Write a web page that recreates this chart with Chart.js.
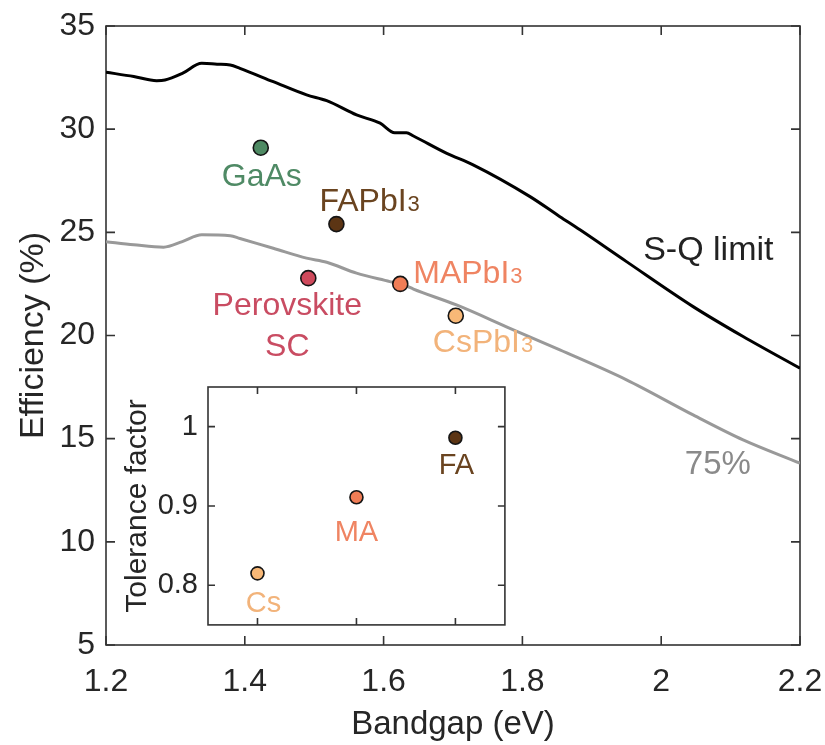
<!DOCTYPE html>
<html>
<head>
<meta charset="utf-8">
<script src="https://cdn.jsdelivr.net/npm/chart.js@4.4.1/dist/chart.umd.min.js"></script>
<style>
    body { margin: 0; background: #fff; }
    #wrap { position: relative; width: 825px; height: 745px; }
    #mainChart { position: absolute; left: 0; top: 0; }
    #insetChart { position: absolute; left: 118px; top: 378px; }
</style>
</head>
<body>
<div id="wrap">
    <canvas id="mainChart" width="825" height="745"></canvas>
    <canvas id="insetChart" width="395" height="255"></canvas>
</div>
<script>
// Shockley-Queisser limit
const bandgapSQ = [1.20, 1.24, 1.273, 1.285, 1.31, 1.338, 1.36, 1.379, 1.393, 1.441, 1.489, 1.518, 1.561, 1.595, 1.616, 1.633, 1.643, 1.691, 1.729, 1.811, 1.854, 1.883, 1.95, 2.046, 2.118, 2.2];
const effSQ = [32.76, 32.55, 32.35, 32.38, 32.70, 33.19, 33.15, 33.11, 32.95, 32.30, 31.66, 31.38, 30.69, 30.29, 29.83, 29.83, 29.67, 28.83, 28.27, 26.73, 25.76, 25.12, 23.58, 21.40, 19.95, 18.41];

// 75% of the S-Q limit (gray curve)
const bandgap75 = [1.20, 1.24, 1.283, 1.31, 1.338, 1.379, 1.393, 1.441, 1.489, 1.518, 1.561, 1.609, 1.633, 1.643, 1.705, 1.782, 1.854, 1.95, 2.046, 2.118, 2.2];
const eff75 = [24.55, 24.40, 24.28, 24.55, 24.88, 24.84, 24.70, 24.23, 23.75, 23.55, 23.02, 22.61, 22.40, 22.25, 21.48, 20.35, 19.30, 17.85, 16.15, 14.94, 13.81];

// record cells
const materials = ['GaAs', 'FAPbI3', 'Perovskite\nSC', 'MAPbI3', 'CsPbI3'];
const matBandgap = [1.423, 1.532, 1.4915, 1.624, 1.704];
const matEff = [29.1, 25.40, 22.78, 22.50, 20.96];

// inset: tolerance factor per A-site cation
const cations = ['Cs', 'MA', 'FA'];
const cationPos = [1, 2, 3];
const toleranceFactor = [0.815, 0.911, 0.986];

const xTicks = [1.2, 1.4, 1.6, 1.8, 2, 2.2];
const yTicks = [5, 10, 15, 20, 25, 30, 35];
const insetXTicks = [1, 2, 3];
const insetYTicks = [0.8, 0.9, 1];

const FONT = "'Liberation Sans', Arial, Helvetica, sans-serif";
const TEXT = '#262626';
const AXIS = '#333333';

const matColors = ['#4e8a63', '#5c3514', '#cf4a5c', '#f07d56', '#f8b877'];
const matTextColors = ['#4f8a65', '#6a4420', '#c94c62', '#ef8462', '#f2b37a'];
const cationColors = ['#f8b877', '#f07d56', '#5c3514'];
const cationTextColors = ['#f2b37a', '#ef8462', '#6a4420'];

// label offsets (px) relative to the marker
const matLabelPos = [
    { dx: 1, dy: 27, align: 'center' },
    { dx: -17, dy: -25, align: 'left' },
    { dx: -21, dy: 25, align: 'center' },
    { dx: 13, dy: -12, align: 'left' },
    { dx: -23, dy: 25, align: 'left' }
];
const cationLabelPos = [
    { dx: 6, dy: 28, align: 'center' },
    { dx: 0, dy: 33, align: 'center' },
    { dx: 1, dy: 26, align: 'center' }
];

function drawLabel(ctx, text, x, y, align, color, size) {
    const lines = text.split('\n');
    lines.forEach((line, i) => {
        const m = /^(.*[A-Za-z])(\d)$/.exec(line);
        const main = m ? m[1] : line;
        const sub = m ? m[2] : '';
        const subSize = Math.round(size * 0.7);
        ctx.font = size + 'px ' + FONT;
        const w1 = ctx.measureText(main).width;
        ctx.font = subSize + 'px ' + FONT;
        const w2 = sub ? ctx.measureText(sub).width + 1 : 0;
        const w = w1 + w2;
        let left = x;
        if (align === 'center') left = x - w / 2;
        else if (align === 'right') left = x - w;
        const base = y + i * size * 1.3 + size * 0.36;
        ctx.fillStyle = color;
        ctx.textAlign = 'left';
        ctx.textBaseline = 'alphabetic';
        ctx.font = size + 'px ' + FONT;
        ctx.fillText(main, left, base);
        if (sub) {
            ctx.font = subSize + 'px ' + FONT;
            ctx.fillText(sub, left + w1 + 1, base);
        }
    });
}

// box around the plot with inward ticks on all four sides
const framePlugin = {
    id: 'frame',
    beforeDatasetsDraw(chart, args, opts) {
        const { ctx, chartArea: a, scales: { x, y } } = chart;
        const len = opts.tickLength || 9;
        ctx.save();
        ctx.strokeStyle = AXIS;
        ctx.lineWidth = 1.6;
        ctx.strokeRect(a.left, a.top, a.width, a.height);
        ctx.beginPath();
        x.ticks.forEach(t => {
            const px = x.getPixelForValue(t.value);
            ctx.moveTo(px, a.bottom); ctx.lineTo(px, a.bottom - len);
            ctx.moveTo(px, a.top); ctx.lineTo(px, a.top + len);
        });
        y.ticks.forEach(t => {
            const py = y.getPixelForValue(t.value);
            ctx.moveTo(a.left, py); ctx.lineTo(a.left + len, py);
            ctx.moveTo(a.right, py); ctx.lineTo(a.right - len, py);
        });
        ctx.stroke();
        ctx.restore();
    }
};

// text labels placed at data positions
const labelPlugin = {
    id: 'textLabels',
    afterDatasetsDraw(chart, args, opts) {
        const { ctx, scales: { x, y } } = chart;
        ctx.save();
        (opts.items || []).forEach(it => {
            const px = x.getPixelForValue(it.x) + (it.dx || 0);
            const py = y.getPixelForValue(it.y) + (it.dy || 0);
            drawLabel(ctx, it.text, px, py, it.align, it.color, it.size);
        });
        ctx.restore();
    }
};

const mainLabels = materials.map((name, i) => ({
    text: name, x: matBandgap[i], y: matEff[i],
    dx: matLabelPos[i].dx, dy: matLabelPos[i].dy, align: matLabelPos[i].align,
    color: matTextColors[i], size: 32
}));
mainLabels.push({ text: 'S-Q limit', x: 1.974, y: 24.24, align: 'left', color: '#222222', size: 34 });
mainLabels.push({ text: '75%', x: 2.034, y: 13.88, align: 'left', color: '#8a8a8a', size: 33 });

const insetLabels = cations.map((name, i) => ({
    text: name, x: cationPos[i], y: toleranceFactor[i],
    dx: cationLabelPos[i].dx, dy: cationLabelPos[i].dy, align: cationLabelPos[i].align,
    color: cationTextColors[i], size: 29
}));

// keep tick-label overflow from shrinking the plot area
function noEdgePadding(s) {
    s.paddingLeft = 0;
    s.paddingRight = 0;
    s.paddingTop = 0;
    s.paddingBottom = 0;
}

new Chart(document.getElementById('mainChart').getContext('2d'), {
    type: 'line',
    data: {
        datasets: [{
            label: 'Cells',
            type: 'scatter',
            data: matBandgap.map((b, i) => ({ x: b, y: matEff[i] })),
            backgroundColor: matColors,
            borderColor: '#151515',
            borderWidth: 1.6,
            pointRadius: 7.5,
            showLine: false,
            order: 0
        }, {
            label: 'S-Q limit',
            data: bandgapSQ.map((b, i) => ({ x: b, y: effSQ[i] })),
            borderColor: '#000000',
            borderWidth: 3,
            pointRadius: 0,
            cubicInterpolationMode: 'monotone',
            fill: false,
            order: 1
        }, {
            label: '75%',
            data: bandgap75.map((b, i) => ({ x: b, y: eff75[i] })),
            borderColor: '#999999',
            borderWidth: 3,
            pointRadius: 0,
            cubicInterpolationMode: 'monotone',
            fill: false,
            order: 2
        }]
    },
    options: {
        responsive: false,
        animation: false,
        layout: { padding: { top: 26, right: 25, left: 0, bottom: 0 } },
        scales: {
            x: {
                type: 'linear',
                min: 1.2,
                max: 2.2,
                afterBuildTicks: s => { s.ticks = xTicks.map(v => ({ value: v })); },
                afterFit: s => { s.height = 100; noEdgePadding(s); },
                grid: { display: false, drawTicks: false },
                border: { display: false },
                ticks: {
                    autoSkip: false, maxRotation: 0, padding: 18,
                    color: TEXT, font: { family: FONT, size: 32 },
                    callback: v => String(v)
                },
                title: {
                    display: true, text: 'Bandgap (eV)', color: TEXT,
                    font: { family: FONT, size: 33 }, padding: { top: 0, bottom: 0 }
                }
            },
            y: {
                type: 'linear',
                min: 5,
                max: 35,
                afterBuildTicks: s => { s.ticks = yTicks.map(v => ({ value: v })); },
                afterFit: s => { s.width = 106; noEdgePadding(s); },
                grid: { display: false, drawTicks: false },
                border: { display: false },
                ticks: {
                    padding: 11, color: TEXT, font: { family: FONT, size: 32 },
                    callback: v => String(v)
                },
                title: {
                    display: true, text: 'Efficiency (%)', color: TEXT,
                    font: { family: FONT, size: 34 }, padding: { top: 13, bottom: 0 }
                }
            }
        },
        plugins: {
            legend: { display: false },
            tooltip: { enabled: false },
            frame: { tickLength: 9 },
            textLabels: { items: mainLabels }
        }
    },
    plugins: [framePlugin, labelPlugin]
});

new Chart(document.getElementById('insetChart').getContext('2d'), {
    type: 'scatter',
    data: {
        datasets: [{
            label: 'Tolerance factor',
            data: cationPos.map((p, i) => ({ x: p, y: toleranceFactor[i] })),
            backgroundColor: cationColors,
            borderColor: '#151515',
            borderWidth: 1.6,
            pointRadius: 6.5
        }]
    },
    options: {
        responsive: false,
        animation: false,
        layout: { padding: { top: 9, right: 7, left: 0, bottom: 6 } },
        scales: {
            x: {
                type: 'linear',
                min: 0.5,
                max: 3.5,
                afterBuildTicks: s => { s.ticks = insetXTicks.map(v => ({ value: v })); },
                afterFit: s => { s.height = 0; noEdgePadding(s); },
                grid: { display: false, drawTicks: false },
                border: { display: false },
                ticks: { display: false }
            },
            y: {
                type: 'linear',
                min: 0.75,
                max: 1.05,
                afterBuildTicks: s => { s.ticks = insetYTicks.map(v => ({ value: v })); },
                afterFit: s => { s.width = 90; noEdgePadding(s); },
                grid: { display: false, drawTicks: false },
                border: { display: false },
                ticks: {
                    padding: 10, color: TEXT, font: { family: FONT, size: 29 },
                    callback: v => String(v)
                },
                title: {
                    display: true, text: 'Tolerance factor', color: TEXT,
                    font: { family: FONT, size: 30 }, padding: { top: 2, bottom: 0 }
                }
            }
        },
        plugins: {
            legend: { display: false },
            tooltip: { enabled: false },
            frame: { tickLength: 7 },
            textLabels: { items: insetLabels }
        }
    },
    plugins: [framePlugin, labelPlugin]
});
</script>
</body>
</html>
